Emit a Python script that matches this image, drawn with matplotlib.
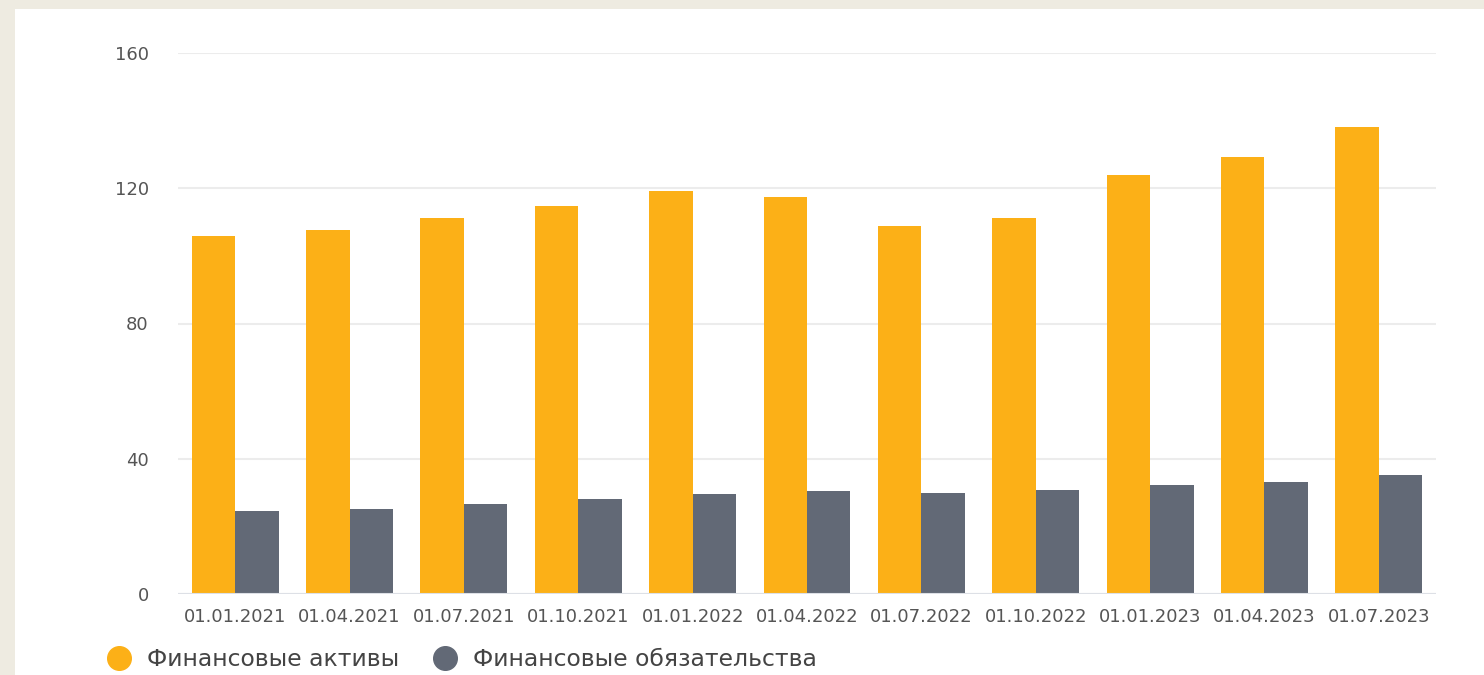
import matplotlib.pyplot as plt
import matplotlib.patches as mpatches
from matplotlib.lines import Line2D
import numpy as np

# Data
dates = ['01.01.2021', '01.04.2021', '01.07.2021', '01.10.2021', '01.01.2022', '01.04.2022',
         '01.07.2022', '01.10.2022', '01.01.2023', '01.04.2023', '01.07.2023']
assets = [105.9, 107.7, 111.2, 114.8, 119.2, 117.4, 108.8, 111.2, 123.9, 129.2, 138.1]
liabilities = [24.5, 25.1, 26.6, 28.1, 29.6, 30.5, 29.9, 30.8, 32.2, 33.1, 35.2]
series_names = ['Финансовые активы', 'Финансовые обязательства']

orange = '#FCB017'
grey = '#626976'

W, H = 1484, 675
fig = plt.figure(figsize=(W / 100, H / 100), dpi=100, facecolor='#EEEBE1')
# white panel
fig.patches.append(mpatches.Rectangle((15 / W, 0), 1 - 15 / W, (H - 9) / H,
                                      transform=fig.transFigure, facecolor='white',
                                      edgecolor='none', zorder=-5))

ax = fig.add_axes([178 / W, (H - 594) / H, (1436 - 178) / W, (594 - 53) / H])
ax.set_facecolor('none')
ax.set_zorder(2)

x = np.arange(len(dates))
w = 0.38
ax.bar(x - w / 2, assets, width=w, color=orange, zorder=3)
ax.bar(x + w / 2, liabilities, width=w, color=grey, zorder=3)

ax.set_xlim(-0.5, len(dates) - 0.5)
ax.set_ylim(0, 160)
ax.set_yticks([0, 40, 80, 120, 160])
ax.set_xticks(x)
ax.set_xticklabels(dates)

ax.grid(axis='y', color='#ECECEC', linewidth=1.5, zorder=0)
ax.axhline(0, color='#DDE0E6', linewidth=1.5, zorder=4)
for s in ax.spines.values():
    s.set_visible(False)
ax.tick_params(axis='y', length=0, pad=21, labelsize=13, labelcolor='#555555')
ax.tick_params(axis='x', length=0, pad=10, labelsize=13, labelcolor='#555555')

handles = [Line2D([], [], marker='o', linestyle='none', markersize=17,
                  markerfacecolor=c, markeredgecolor=c) for c in (orange, grey)]
fig.legend(handles, series_names, loc='center left', bbox_to_anchor=(96 / W, (H - 660) / H),
           ncol=2, frameon=False, fontsize=16.9, labelcolor='#444444',
           handletextpad=0.18, columnspacing=0.95, borderaxespad=0, borderpad=0)

fig.savefig('out.png', dpi=100, facecolor=fig.get_facecolor())
